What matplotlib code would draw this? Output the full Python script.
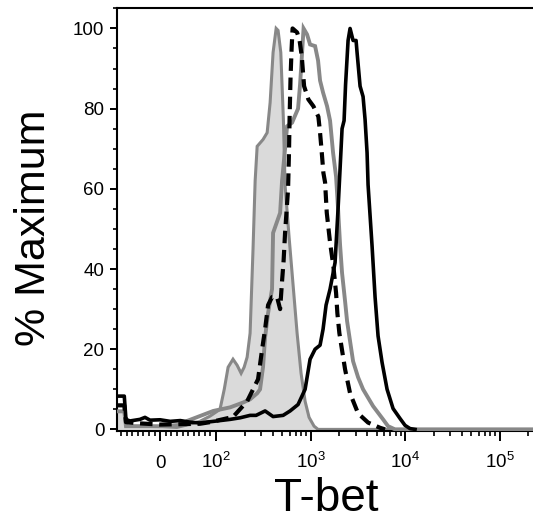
import matplotlib
matplotlib.use("Agg")
import matplotlib.pyplot as plt

plt.rcParams["font.family"] = ["Liberation Sans", "DejaVu Sans"]
plt.rcParams["mathtext.fontset"] = "custom"
plt.rcParams["mathtext.rm"] = "Liberation Sans"
plt.rcParams["mathtext.it"] = "Liberation Sans:italic"
plt.rcParams["mathtext.default"] = "regular"

# T-bet fluorescence histograms (% of maximum), biexponential-style axis
iso_x = [-77, -63, -60, 0, 30, 45, 71, 89, 110, 122, 134, 151, 167, 184, 198, 213,
         229, 246, 259, 272, 314, 347, 373, 401, 432, 453, 484, 516, 537, 592, 653,
         720, 793, 875, 964, 1089, 1200, 226000]
iso_y = [4.5, 4.5, 0.8, 0.7, 0.5, 1.0, 2.0, 3.3, 5.0, 10, 15.5, 17.5, 16, 14, 15.5, 18,
         24, 45, 62, 70.6, 72.3, 74, 81.5, 94, 100, 99.5, 94, 77, 61, 48, 36,
         24, 14, 7, 3, 0.8, 0, 0]

grey_x = [-77, -64, -61, 0, 45, 48, 95, 141, 193, 229, 272, 292, 314, 330, 355, 391,
          401, 476, 499, 537, 564, 637, 737, 774, 813, 843, 918, 988, 1116, 1200,
          1260, 1356, 1495, 1608, 1730, 1862, 1954, 2052, 2154, 2317, 2434, 2618,
          2817, 3182, 3594, 4587, 5851, 6609, 7838, 226000]
grey_y = [4.5, 4.5, 0.8, 0.8, 1.2, 2.1, 4.6, 5.5, 6.7, 7.5, 9, 10, 15.6, 23, 29, 35,
          49, 54, 62, 70, 75.6, 76.5, 80, 86, 94, 100, 98.5, 96, 95.6, 92,
          87, 84, 80.6, 77, 69, 63, 55, 46, 39, 32, 27, 22,
          17, 13, 10, 5.8, 2.5, 0.8, 0, 0]

dash_x = [-77, -64, -61, -36, 0, 36, 71, 89, 151, 213, 278, 307, 330, 355, 391, 442,
          476, 499, 518, 537, 578, 592, 600, 614, 630, 645, 720, 765, 807, 854, 948,
          1071, 1209, 1260, 1314, 1366, 1424, 1484, 1608, 1743, 1862, 1921, 2017,
          2317, 2618, 3182, 4060, 5439, 6143]
dash_y = [6, 6, 1.8, 1.5, 1.2, 1.3, 1.4, 1.8, 3.1, 7, 12.5, 20, 25, 31, 33, 33,
          30, 37, 42, 49, 60, 70, 78, 88, 95, 100, 99, 97, 93, 85.6, 82.3,
          80.6, 78, 74, 69, 64, 61.6, 54, 46.6, 40.7, 34, 29, 24,
          15, 9, 4, 1.7, 0.4, 0]

solid_x = [-77, -64, -61, -54, -36, -27, -18, 0, 18, 36, 54, 71, 95, 141, 180, 229,
           265, 330, 401, 512, 607, 737, 875, 988, 1116, 1260, 1356, 1459, 1608,
           1816, 1954, 2052, 2154, 2262, 2346, 2494, 2618, 2817, 3030, 3105, 3341,
           3594, 3773, 3962, 4060, 4476, 4815, 5179, 5710, 6451, 7465, 8855, 10000,
           11295, 12760]
solid_y = [8.3, 8.3, 2.5, 2.1, 2.5, 3.0, 2.3, 2.4, 2.0, 2.2, 1.8, 1.6, 2.0, 2.5, 2.9, 3.5,
           3.5, 4.6, 3.2, 3.5, 4.6, 6.2, 10, 17.5, 20, 21, 25, 31, 35,
           41.6, 55, 65, 75, 77, 86, 97, 100, 97, 97, 94, 85.6,
           83, 77.3, 69, 61, 45.7, 33, 23.3, 16.7, 10, 5.2, 2.7, 1.0,
           0.2, 0]

x_major = [0, 100, 1000, 10000, 100000]
x_major_labels = ["0", "$10^2$", "$10^3$", "$10^4$", "$10^5$"]
x_minor = ([-70, -60, -50, -40, -30, -20, -10, 10, 20, 30, 40, 50, 60, 70, 80, 90]
           + [m * 10 ** e for e in (2, 3, 4) for m in range(2, 10)] + [200000])
y_major = [0, 20, 40, 60, 80, 100]
y_minor = [5, 10, 15, 25, 30, 35, 45, 50, 55, 65, 70, 75, 85, 90, 95, 105]

GREY = "#888888"
FILL = "#dadada"

fig = plt.figure(figsize=(5.33, 5.20), dpi=100)
ax = fig.add_axes([117 / 533, 1 - 431 / 520, 416 / 533, 423 / 520])

ax.fill_between(iso_x, iso_y, 0, color=FILL, linewidth=0, zorder=1)
ax.plot(iso_x, iso_y, color=GREY, lw=2.2, zorder=2, solid_joinstyle="miter")
ax.plot(grey_x, grey_y, color=GREY, lw=2.8, zorder=3, solid_joinstyle="miter")
ax.plot(dash_x, dash_y, color="black", lw=3.0, dashes=(3, 1.6), zorder=4)
ax.plot(solid_x, solid_y, color="black", lw=2.6, zorder=5)

ax.set_xscale("symlog", base=10, linthresh=100, linscale=0.5333)
ax.set_xlim(-77, 226000)
ax.set_ylim(-0.4, 105.1)

ax.set_xticks(x_major, x_major_labels)
ax.set_xticks(x_minor, minor=True)
ax.set_yticks(y_major)
ax.set_yticks(y_minor, minor=True)

ax.spines["right"].set_visible(False)
for s in ("left", "bottom", "top"):
    ax.spines[s].set_linewidth(1.5)

ax.tick_params(axis="x", which="major", length=7, width=1.4, direction="out",
               labelsize=13.5, pad=20)
ax.tick_params(axis="x", which="minor", length=3.5, width=1.2, direction="out")
ax.tick_params(axis="y", which="major", length=5, width=1.4, direction="out",
               labelsize=13.5, pad=4)
ax.tick_params(axis="y", which="minor", length=3, width=1.2, direction="out")
for lab in ax.get_xticklabels():
    lab.set_verticalalignment("baseline")

fig.text(34 / 533, 1 - 228 / 520, "% Maximum", rotation=90, fontsize=31,
         ha="center", va="center")
fig.text(326 / 533, 1 - 511 / 520, "T-bet", fontsize=33, ha="center", va="baseline")

fig.savefig("out.png", dpi=100)
